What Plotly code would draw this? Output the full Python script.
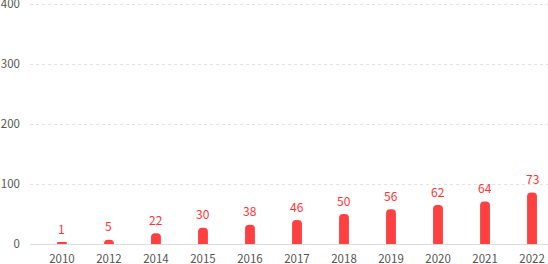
import plotly.graph_objects as go

years = ["2010", "2012", "2014", "2015", "2016", "2017", "2018", "2019", "2020", "2021", "2022"]
bar_values = [2, 7, 18, 27, 32, 40, 50, 58, 65, 71, 86]
labels = ["1", "5", "22", "30", "38", "46", "50", "56", "62", "64", "73"]
y_ticks = [0, 100, 200, 300, 400]

FONT = "Noto Sans CJK SC"
RED = "#ff4040"

fig = go.Figure()
fig.add_trace(go.Bar(
    x=years, y=bar_values, width=0.21,
    marker=dict(color=RED, line=dict(width=0)),
    hoverinfo="skip",
))

for i, (v, t) in enumerate(zip(bar_values, labels)):
    fig.add_annotation(x=i, y=v, xref="x", yref="y", text=t, showarrow=False,
                       yanchor="middle", yshift=14,
                       font=dict(family=FONT, size=12, color="#ff3333"))

fig.update_layout(
    width=548, height=264,
    margin=dict(l=30, r=0, t=0, b=20),
    plot_bgcolor="white", paper_bgcolor="white",
    showlegend=False,
    barcornerradius=5,
    font=dict(family=FONT, size=12, color="#555"),
    xaxis=dict(type="category", range=[-0.68, 10.34], showgrid=False, zeroline=False,
               showline=True, linecolor="#dcdce0", linewidth=1, ticks="", automargin=False,
               ticklabelstandoff=4, tickfont=dict(family=FONT, size=11.5, color="#555")),
    yaxis=dict(range=[0, 406.67], tickvals=y_ticks, showgrid=True, gridcolor="#e3e3e3",
               griddash="3px,3px", gridwidth=1, zeroline=False, showline=False, ticks="",
               automargin=False, ticklabeloverflow="allow",
               ticklabelstandoff=9, tickfont=dict(family=FONT, size=11.5, color="#555")),
)

fig.write_html("out.html")
